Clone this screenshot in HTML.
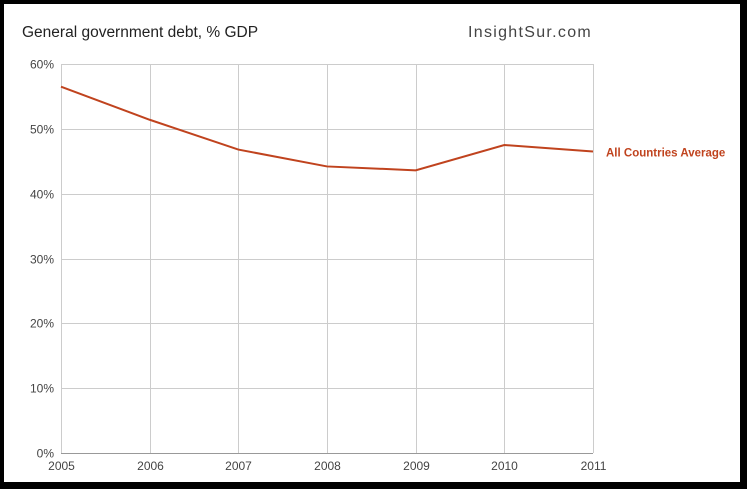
<!DOCTYPE html>
<html><head><meta charset="utf-8"><style>
html,body{margin:0;padding:0;background:#000;}
body{width:747px;height:489px;position:relative;overflow:hidden;font-family:"Liberation Sans",Arial,sans-serif;}
#card{position:absolute;left:4px;top:4px;width:736px;height:478px;background:#fff;}
</style></head><body>
<div id="card"></div>
<svg id="chart" width="747" height="489" style="position:absolute;left:0;top:0">
<text x="22" y="37" font-size="15.5" fill="#222">General government debt, % GDP</text>
<text x="468" y="37" font-size="16" fill="#444" letter-spacing="1.3">InsightSur.com</text>
<g id="grid"></g><g id="axes"></g><g id="series"></g>
</svg>
<script>
const years=["2005","2006","2007","2008","2009","2010","2011"];
const values=[56.5,51.4,46.8,44.2,43.6,47.5,46.5];
const yTicks=[0,10,20,30,40,50,60];
const seriesName="All Countries Average";
const L=61,R=593,T=64,B=453,yMax=60;
const xs=i=>L+(R-L)*i/(years.length-1);
const ys=v=>B-(B-T)*v/yMax;
const NS="http://www.w3.org/2000/svg";
function mk(tag,attrs,parent){const e=document.createElementNS(NS,tag);for(const k in attrs)e.setAttribute(k,attrs[k]);document.getElementById(parent).appendChild(e);return e;}
yTicks.forEach(t=>{
 const y=Math.round(ys(t))+0.5;
 const l=mk('line',{x1:L,x2:R,y1:y,y2:y,stroke:t===0?'#999':'#ccc','stroke-width':1},'grid');
 
 
 const tx=mk('text',{x:L-7,y:y+4,'text-anchor':'end','font-size':12,fill:'#444'},'axes');
 tx.textContent=t+'%';
 
 
});
years.forEach((yr,i)=>{
 const x=Math.round(xs(i))+0.5;
 const l=mk('line',{x1:x,x2:x,y1:T,y2:B,stroke:'#ccc','stroke-width':1},'grid');
 
 
 const tx=mk('text',{x:x,y:B+17,'text-anchor':'middle','font-size':12,fill:'#444'},'axes');
 tx.textContent=yr;
 
 
});
const pl=mk('polyline',{points:values.map((v,i)=>xs(i)+','+ys(v)).join(' '),fill:'none',stroke:'#c0431e','stroke-width':2},'series');


const lb=mk('text',{x:R+13,y:ys(values[values.length-1])+5,'font-size':11.5,'font-weight':'bold',fill:'#c0431e'},'series');
lb.textContent=seriesName;


</script>
</body></html>
